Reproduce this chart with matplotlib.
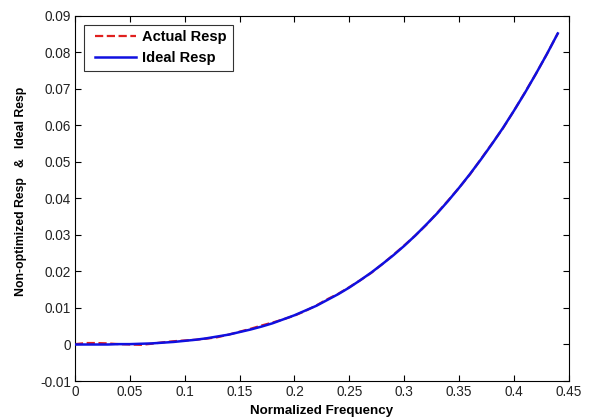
import matplotlib
matplotlib.use("Agg")
import matplotlib.pyplot as plt
from matplotlib.legend_handler import HandlerLine2D

freq = [0.00, 0.01, 0.02, 0.03, 0.04, 0.05, 0.06, 0.07, 0.08, 0.09,
        0.10, 0.11, 0.12, 0.13, 0.14, 0.15, 0.16, 0.17, 0.18, 0.19,
        0.20, 0.21, 0.22, 0.23, 0.24, 0.25, 0.26, 0.27, 0.28, 0.29,
        0.30, 0.31, 0.32, 0.33, 0.34, 0.35, 0.36, 0.37, 0.38, 0.39,
        0.40, 0.41, 0.42, 0.43, 0.44]
ideal = [0.0000, 0.0000, 0.0000, 0.0000, 0.0001, 0.0001, 0.0002, 0.0003, 0.0005, 0.0007,
         0.0010, 0.0013, 0.0017, 0.0022, 0.0027, 0.0034, 0.0041, 0.0049, 0.0058, 0.0069,
         0.0080, 0.0093, 0.0106, 0.0122, 0.0138, 0.0156, 0.0176, 0.0197, 0.0220, 0.0244,
         0.0270, 0.0298, 0.0328, 0.0359, 0.0393, 0.0429, 0.0467, 0.0507, 0.0549, 0.0593,
         0.0640, 0.0689, 0.0741, 0.0795, 0.0852]
actual = [0.0001, 0.0004, 0.0004, 0.0003, 0.0001, 0.0000, -0.0001, 0.0002, 0.0006, 0.0009,
          0.0011, 0.0013, 0.0016, 0.0020, 0.0027, 0.0035, 0.0043, 0.0052, 0.0060, 0.0069,
          0.0079, 0.0092, 0.0107, 0.0124, 0.0139, 0.0157, 0.0176, 0.0196, 0.0220, 0.0245,
          0.0271, 0.0298, 0.0327, 0.0360, 0.0394, 0.0429, 0.0466, 0.0508, 0.0550, 0.0592,
          0.0640, 0.0690, 0.0741, 0.0795, 0.0852]

plt.rcParams['font.family'] = ['Liberation Sans', 'DejaVu Sans']

fig = plt.figure(figsize=(5.9, 4.18), dpi=100)
ax = fig.add_axes([0.127, 0.0885, 0.837, 0.8735])

l1, = ax.plot(freq, actual, '--', color='#e0201e', linewidth=1.6, label='Actual Resp', zorder=2)
l2, = ax.plot(freq, ideal, '-', color='#1010e0', linewidth=1.8, label='Ideal Resp', zorder=3)

ax.set_xlim(0, 0.45)
ax.set_ylim(-0.01, 0.09)
ax.set_xticks([0, 0.05, 0.1, 0.15, 0.2, 0.25, 0.3, 0.35, 0.4, 0.45])
ax.set_xticklabels(['0', '0.05', '0.1', '0.15', '0.2', '0.25', '0.3', '0.35', '0.4', '0.45'])
ax.set_yticks([-0.01, 0, 0.01, 0.02, 0.03, 0.04, 0.05, 0.06, 0.07, 0.08, 0.09])
ax.set_yticklabels(['-0.01', '0', '0.01', '0.02', '0.03', '0.04', '0.05', '0.06', '0.07', '0.08', '0.09'])
ax.tick_params(direction='in', top=True, right=True, labelsize=9.8, length=4, width=0.8, pad=3,
               labelcolor='#222222')
for s in ax.spines.values():
    s.set_linewidth(0.8)

ax.set_xlabel('Normalized Frequency', fontsize=9.6, fontweight='bold')
ax.xaxis.set_label_coords(0.5, -0.066)
ax.set_ylabel('Non-optimized Resp   &   Ideal Resp', fontsize=8.8, fontweight='bold')
ax.yaxis.set_label_coords(-0.097, 0.52)

leg = ax.legend(handles=[l1, l2], loc='upper left', prop={'weight': 'bold', 'size': 10.5},
                frameon=True, fancybox=False, edgecolor='black', handlelength=3.2,
                borderaxespad=0.6, handletextpad=0.41, labelspacing=0.45, borderpad=0.4,
                handler_map={l1: HandlerLine2D(xpad=0.41), l2: HandlerLine2D(xpad=0.41)})
leg.get_frame().set_linewidth(0.8)

fig.savefig('out.png', dpi=100)
